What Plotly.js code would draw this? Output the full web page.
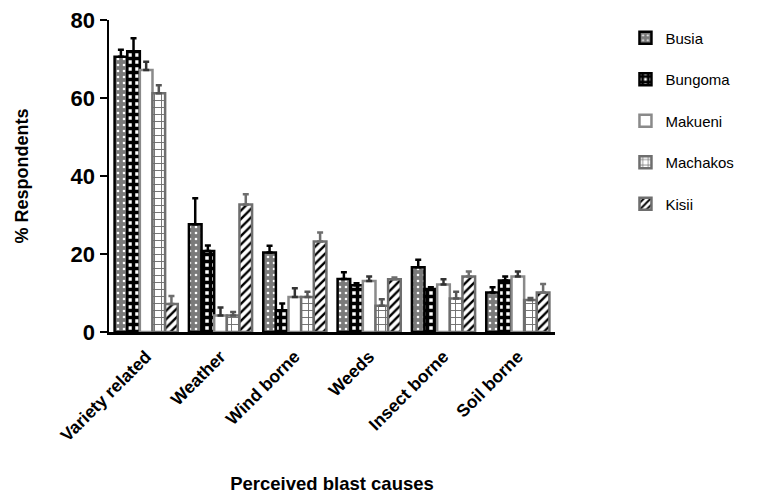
<!DOCTYPE html>
<html>
<head>
<meta charset="utf-8">
<script src="https://cdn.plot.ly/plotly-3.0.1.min.js"></script>
<style>html,body{margin:0;padding:0;background:#fff;}#chart{width:762px;height:494px;}</style>
</head>
<body>
<div id="chart"></div>
<script>
const categories = ["Variety related", "Weather", "Wind borne", "Weeds", "Insect borne", "Soil borne"];
const seriesNames = ["Busia", "Bungoma", "Makueni", "Machakos", "Kisii"];

const busia    = [70.6, 27.6, 20.4, 13.6, 16.6, 10.1];
const bungoma  = [72.0, 20.8, 5.6, 12.0, 11.0, 13.2];
const makueni  = [67.2, 4.2, 9.0, 13.1, 12.2, 14.2];
const machakos = [61.2, 4.2, 9.0, 6.7, 8.6, 8.2];
const kisii    = [7.2, 32.7, 23.2, 13.5, 14.2, 10.1];

const busiaErr    = [1.8, 6.7, 1.7, 1.7, 1.9, 1.4];
const bungomaErr  = [3.3, 1.4, 1.7, 0.5, 0.5, 1.0];
const makueniErr  = [2.1, 2.1, 2.2, 1.1, 1.3, 1.3];
const machakosErr = [2.1, 0.9, 1.3, 1.7, 1.7, 0.5];
const kisiiErr    = [2.0, 2.6, 2.3, 0.5, 1.3, 2.2];

const values = [busia, bungoma, makueni, machakos, kisii];
const errs = [busiaErr, bungomaErr, makueniErr, machakosErr, kisiiErr];

const styles = [
  {line: "#000000", pattern: {shape: ".", bgcolor: "#7a7a7a", fgcolor: "#ffffff", size: 6, solidity: 0.15, fillmode: "replace"}, err: "#000000"},
  {line: "#000000", pattern: {shape: "+", bgcolor: "#ffffff", fgcolor: "#000000", size: 7, solidity: 0.75, fillmode: "replace"}, err: "#000000"},
  {line: "#8a8a8a", pattern: {shape: "", bgcolor: "#ffffff"}, color: "#ffffff", err: "#333333"},
  {line: "#6e6e6e", pattern: {shape: "+", bgcolor: "#ffffff", fgcolor: "#6e6e6e", size: 7, solidity: 0.25, fillmode: "replace"}, err: "#555555"},
  {line: "#6e6e6e", pattern: {shape: "/", bgcolor: "#ffffff", fgcolor: "#000000", size: 6, solidity: 0.4, fillmode: "replace"}, err: "#6e6e6e"}
];

const font = "Arial, 'Liberation Sans', sans-serif";

const traces = seriesNames.map((name, i) => {
  const s = styles[i];
  const marker = {line: {color: s.line, width: 2.5}, pattern: s.pattern};
  if (s.color) marker.color = s.color;
  return {
    type: "bar",
    name: name,
    x: categories,
    y: values[i],
    legendgroup: "g" + i,
    marker: marker,
    error_y: {type: "data", array: errs[i], arrayminus: errs[i].map(() => 0), symmetric: false, visible: true, color: s.err, thickness: 2.5, width: 3}
  };
});

const layout = {
  width: 762, height: 494,
  margin: {l: 109, r: 207, t: 20, b: 162},
  paper_bgcolor: "#ffffff", plot_bgcolor: "#ffffff",
  font: {family: font, color: "#000"},
  barmode: "group", bargap: 0.15, bargroupgap: 0,
  showlegend: true,
  legend: {x: 1.158, xanchor: "left", y: 0.995, yanchor: "top", traceorder: "grouped", tracegroupgap: 19,
           font: {family: font, size: 15, color: "#000"}, bgcolor: "rgba(0,0,0,0)"},
  xaxis: {
    showline: true, linecolor: "#000", linewidth: 2.5, ticks: "", showgrid: false, zeroline: false,
    tickangle: -45, ticklabelstandoff: 5, tickfont: {family: font, size: 17.5, color: "#000", weight: "bold"},
    title: {text: "<b>Perceived blast causes</b>", font: {family: font, size: 18.5}, standoff: 40}
  },
  yaxis: {
    range: [0, 80], tickvals: [0, 20, 40, 60, 80], showline: true, linecolor: "#000", linewidth: 2.5,
    ticks: "outside", ticklen: 7, tickwidth: 2.5, tickcolor: "#000", showgrid: false, zeroline: false,
    tickfont: {family: font, size: 22, color: "#000", weight: "bold"},
    title: {text: "<b>% Respondents</b>", font: {family: font, size: 18}, standoff: 38}
  }
};

Plotly.newPlot("chart", traces, layout, {displayModeBar: false, staticPlot: true});
</script>
</body>
</html>
